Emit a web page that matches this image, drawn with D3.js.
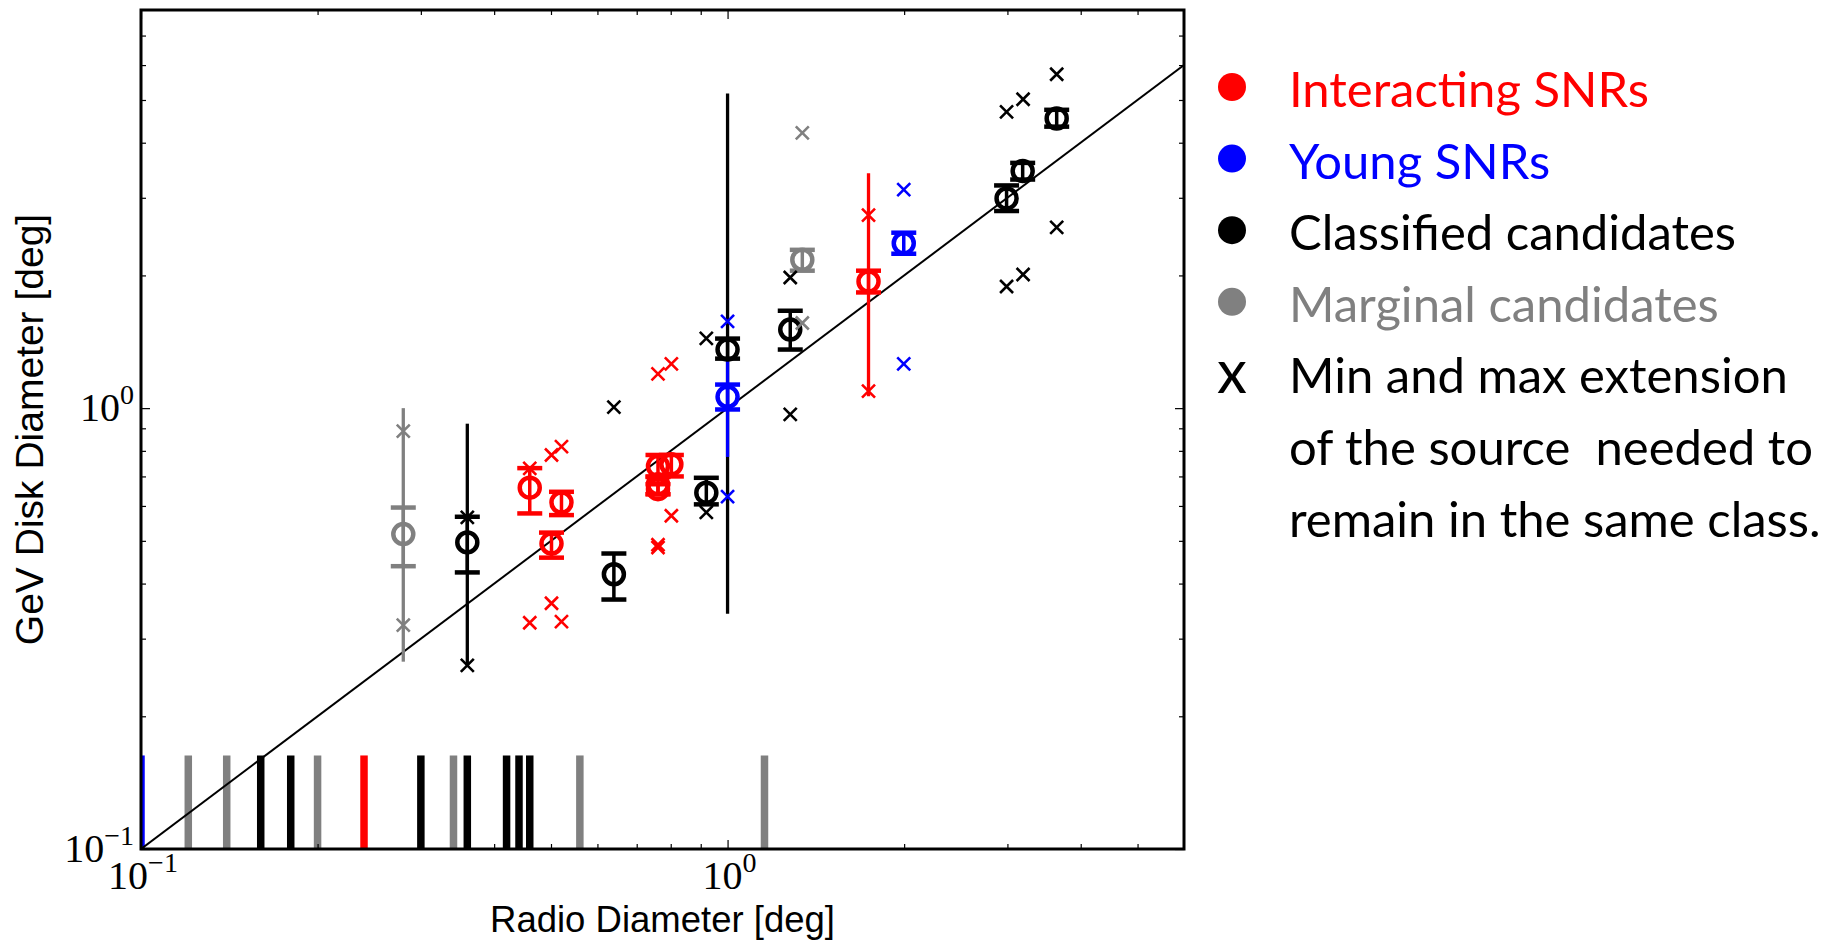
<!DOCTYPE html>
<html>
<head>
<meta charset="utf-8">
<script src="https://cdn.jsdelivr.net/npm/d3@7"></script>
<style>
  body { margin: 0; background: #fff; }
</style>
</head>
<body>
<div id="chart"></div>
<script>
// source classes, in legend order
var classNames = ["Interacting SNRs", "Young SNRs", "Classified candidates", "Marginal candidates"];
var classColors = ["#ff0000", "#0000ff", "#000000", "#808080"];

// sources with a measured GeV disk (class index: 0 interacting, 1 young, 2 classified, 3 marginal)
var radioDiam = [0.280, 0.360, 0.460, 0.521, 0.501, 0.640, 0.761, 0.802, 0.761, 0.761, 0.920, 1.000, 1.000, 1.279, 1.341, 1.739, 1.997, 2.99, 3.185, 3.64];
var gevDiam   = [0.518, 0.496, 0.660, 0.611, 0.493, 0.420, 0.739, 0.746, 0.672, 0.655, 0.643, 1.358, 1.061, 1.507, 2.170, 1.938, 2.366, 2.99, 3.45, 4.54];
var gevLow    = [0.438, 0.424, 0.577, 0.572, 0.458, 0.368, 0.698, 0.700, 0.638, 0.638, 0.605, 1.295, 0.993, 1.358, 2.050, 1.830, 2.240, 2.80, 3.30, 4.35];
var gevHigh   = [0.595, 0.567, 0.731, 0.646, 0.522, 0.468, 0.783, 0.783, 0.700, 0.672, 0.695, 1.438, 1.131, 1.663, 2.286, 2.050, 2.500, 3.20, 3.60, 4.75];
var gevClass  = [3, 2, 0, 0, 0, 2, 0, 0, 0, 0, 2, 2, 1, 2, 3, 0, 1, 2, 2, 2];

// wide extension ranges (drawn without caps)
var extX     = [0.280, 0.360, 1.000, 1.000, 1.739];
var extLow   = [0.266, 0.261, 0.3415, 0.775, 1.064];
var extHigh  = [1.000, 0.922, 5.17, 1.29, 3.41];
var extClass = [3, 2, 2, 1, 0];

// min and max extension markers
var crossX = [0.280, 0.280, 1.341, 1.341,
              0.360, 0.360, 0.640, 0.920, 0.920, 1.279, 1.279, 2.99, 2.99, 3.19, 3.19, 3.64, 3.64,
              0.460, 0.460, 0.501, 0.501, 0.521, 0.521, 0.761, 0.761, 0.761, 0.802, 0.802, 1.739, 1.739,
              1.000, 1.000, 1.997, 1.997];
var crossY = [0.887, 0.322, 4.21, 1.56,
              0.565, 0.261, 1.005, 1.44, 0.580, 1.978, 0.968, 4.70, 1.888, 5.02, 2.01, 5.72, 2.57,
              0.730, 0.326, 0.783, 0.361, 0.818, 0.328, 1.196, 0.483, 0.490, 1.26, 0.570, 2.74, 1.093,
              1.573, 0.630, 3.13, 1.26];
var crossClass = [3, 3, 3, 3,
                  2, 2, 2, 2, 2, 2, 2, 2, 2, 2, 2, 2, 2,
                  0, 0, 0, 0, 0, 0, 0, 0, 0, 0, 0, 0, 0,
                  1, 1, 1, 1];

// sources with only a radio size (rug along the bottom)
var rugX     = [0.100, 0.1204, 0.140, 0.160, 0.180, 0.200, 0.240, 0.300, 0.341, 0.360, 0.420, 0.441, 0.460, 0.560, 1.156];
var rugClass = [1, 3, 3, 2, 2, 3, 0, 2, 3, 2, 2, 2, 2, 3, 3];
var rugTop = 0.163;

// axes
var xDomain = [0.1, 6], yDomain = [0.1, 8];
var xMajor = [0.1, 1], xMinor = [0.2, 0.3, 0.4, 0.5, 0.6, 0.7, 0.8, 0.9, 2, 3, 4, 5];
var yMajor = [0.1, 1], yMinor = [0.2, 0.3, 0.4, 0.5, 0.6, 0.7, 0.8, 0.9, 2, 3, 4, 5, 6, 7];
var tickExp = ["\u22121", "0"];

var legendNote = ["Min and max extension", "of the source  needed to", "remain in the same class."];

var margin = {top: 10, right: 651, bottom: 93, left: 141},
    width = 1835 - margin.left - margin.right,
    height = 942 - margin.top - margin.bottom;

var svg = d3.select("#chart").append("svg")
    .attr("width", 1835)
    .attr("height", 942)
    .style("background", "#fff");

var g = svg.append("g")
    .attr("transform", "translate(" + margin.left + "," + margin.top + ")");

var x = d3.scaleLog().domain(xDomain).range([0, width]);
var y = d3.scaleLog().domain(yDomain).range([height, 0]);

g.append("clipPath").attr("id", "plotclip")
  .append("rect").attr("width", width).attr("height", height);

var plot = g.append("g").attr("clip-path", "url(#plotclip)");

// rug
plot.selectAll("line.rug")
  .data(rugX)
  .enter().append("line")
    .attr("class", "rug")
    .attr("x1", function(d) { return x(d); })
    .attr("x2", function(d) { return x(d); })
    .attr("y1", y(yDomain[0]))
    .attr("y2", y(rugTop))
    .attr("stroke", function(d, i) { return classColors[rugClass[i]]; })
    .attr("stroke-width", 7.5);

// one to one line
plot.append("line")
  .attr("x1", x(xDomain[0])).attr("y1", y(xDomain[0]))
  .attr("x2", x(xDomain[1])).attr("y2", y(xDomain[1]))
  .attr("stroke", "#000")
  .attr("stroke-width", 2);

// wide extension bars
plot.selectAll("line.ext")
  .data(extX)
  .enter().append("line")
    .attr("class", "ext")
    .attr("x1", function(d) { return x(d); })
    .attr("x2", function(d) { return x(d); })
    .attr("y1", function(d, i) { return y(extLow[i]); })
    .attr("y2", function(d, i) { return y(extHigh[i]); })
    .attr("stroke", function(d, i) { return classColors[extClass[i]]; })
    .attr("stroke-width", 3.3);

// error bars with caps
var eb = plot.selectAll("g.err")
  .data(radioDiam)
  .enter().append("g")
    .attr("class", "err")
    .attr("stroke", function(d, i) { return classColors[gevClass[i]]; });

eb.append("line")
  .attr("x1", function(d) { return x(d); })
  .attr("x2", function(d) { return x(d); })
  .attr("y1", function(d, i) { return y(gevLow[i]); })
  .attr("y2", function(d, i) { return y(gevHigh[i]); })
  .attr("stroke-width", 3.5);

eb.append("line")
  .attr("x1", function(d) { return x(d) - 12.5; })
  .attr("x2", function(d) { return x(d) + 12.5; })
  .attr("y1", function(d, i) { return y(gevLow[i]); })
  .attr("y2", function(d, i) { return y(gevLow[i]); })
  .attr("stroke-width", 4.5);

eb.append("line")
  .attr("x1", function(d) { return x(d) - 12.5; })
  .attr("x2", function(d) { return x(d) + 12.5; })
  .attr("y1", function(d, i) { return y(gevHigh[i]); })
  .attr("y2", function(d, i) { return y(gevHigh[i]); })
  .attr("stroke-width", 4.5);

// open circles
plot.selectAll("circle.src")
  .data(radioDiam)
  .enter().append("circle")
    .attr("class", "src")
    .attr("cx", function(d) { return x(d); })
    .attr("cy", function(d, i) { return y(gevDiam[i]); })
    .attr("r", 10)
    .attr("fill", "none")
    .attr("stroke", function(d, i) { return classColors[gevClass[i]]; })
    .attr("stroke-width", 4.5);

// min / max crosses
plot.selectAll("path.cross")
  .data(crossX)
  .enter().append("path")
    .attr("class", "cross")
    .attr("transform", function(d, i) { return "translate(" + x(d) + "," + y(crossY[i]) + ")"; })
    .attr("d", "M-6.5,-6.5L6.5,6.5M-6.5,6.5L6.5,-6.5")
    .attr("fill", "none")
    .attr("stroke", function(d, i) { return classColors[crossClass[i]]; })
    .attr("stroke-width", 2.6);

// ticks on all four sides, pointing in
function tickAxis(axis, vals, len) {
  return axis.tickValues(vals).tickSizeInner(-len).tickSizeOuter(0).tickFormat("");
}
[[xMajor, 9], [xMinor, 5]].forEach(function(t) {
  g.append("g").attr("transform", "translate(0," + height + ")").call(tickAxis(d3.axisBottom(x), t[0], t[1]));
  g.append("g").call(tickAxis(d3.axisTop(x), t[0], t[1]));
});
[[yMajor, 9], [yMinor, 5]].forEach(function(t) {
  g.append("g").call(tickAxis(d3.axisLeft(y), t[0], t[1]));
  g.append("g").attr("transform", "translate(" + width + ",0)").call(tickAxis(d3.axisRight(y), t[0], t[1]));
});
g.selectAll(".domain").remove();
g.selectAll(".tick line").attr("stroke", "#000").attr("stroke-width", 1.2);

// frame
g.append("rect")
  .attr("width", width).attr("height", height)
  .attr("fill", "none").attr("stroke", "#000").attr("stroke-width", 3);

// tick labels 10^n
function powerLabel(sel, exp) {
  sel.append("tspan").text("10");
  sel.append("tspan").attr("dy", -17).attr("font-size", 28).text(exp);
}
xMajor.forEach(function(v, i) {
  var t = g.append("text")
    .attr("x", x(v) + 2).attr("y", height + 40)
    .attr("text-anchor", "middle")
    .attr("font-family", "'Liberation Serif', 'DejaVu Serif', serif")
    .attr("font-size", 40).attr("fill", "#000");
  powerLabel(t, tickExp[i]);
});
yMajor.forEach(function(v, i) {
  var t = g.append("text")
    .attr("x", -7).attr("y", y(v) + 13)
    .attr("text-anchor", "end")
    .attr("font-family", "'Liberation Serif', 'DejaVu Serif', serif")
    .attr("font-size", 40).attr("fill", "#000");
  powerLabel(t, tickExp[i]);
});

// axis titles
g.append("text")
  .attr("x", width / 2).attr("y", height + 83)
  .attr("text-anchor", "middle")
  .attr("font-family", "'Liberation Sans', Arial, sans-serif")
  .attr("font-size", 36.5)
  .text("Radio Diameter [deg]");

svg.append("text")
  .attr("transform", "translate(43," + (margin.top + height / 2) + ") rotate(-90)")
  .attr("text-anchor", "middle")
  .attr("font-family", "'Liberation Sans', Arial, sans-serif")
  .attr("font-size", 39)
  .text("GeV Disk Diameter [deg]");

// legend
var legend = svg.append("g").attr("font-family", "Lato, 'Open Sans', sans-serif").attr("font-size", 49);
var rowGap = 71.6, firstBase = 107;
classNames.forEach(function(name, i) {
  legend.append("circle")
    .attr("cx", 1232).attr("cy", firstBase + i * rowGap - 20)
    .attr("r", 14)
    .attr("fill", classColors[i]);
  legend.append("text")
    .attr("x", 1289).attr("y", firstBase + i * rowGap)
    .attr("fill", classColors[i])
    .text(name);
});
legend.append("text")
  .attr("x", 1232).attr("y", firstBase + 4 * rowGap)
  .attr("text-anchor", "middle")
  .attr("font-size", 60)
  .text("x");
legendNote.forEach(function(line, j) {
  legend.append("text")
    .attr("x", 1289).attr("y", firstBase + (4 + j) * rowGap)
    .attr("xml:space", "preserve")
    .style("white-space", "pre")
    .text(line);
});
</script>
</body>
</html>
